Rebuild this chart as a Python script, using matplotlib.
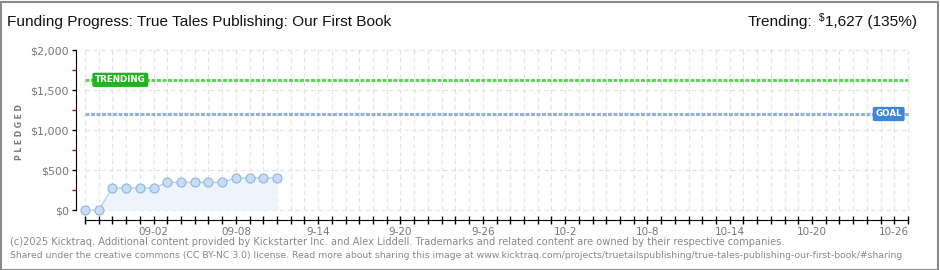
import pandas as pd
import matplotlib
matplotlib.use("Agg")
import matplotlib.pyplot as plt
import matplotlib.dates as mdates
from matplotlib.patches import Rectangle

# data
dates = ["2025-08-28", "2025-08-29", "2025-08-30", "2025-08-31", "2025-09-01",
         "2025-09-02", "2025-09-03", "2025-09-04", "2025-09-05", "2025-09-06",
         "2025-09-07", "2025-09-08", "2025-09-09", "2025-09-10", "2025-09-11"]
pledged = [0, 0, 275, 275, 275, 275, 345, 345, 345, 345, 345, 400, 400, 400, 400]
trend_value = 1627
goal_value = 1200
campaign_start = "2025-08-28"
campaign_end = "2025-10-27"
label_dates = ["2025-09-02", "2025-09-08", "2025-09-14", "2025-09-20", "2025-09-26",
               "2025-10-02", "2025-10-08", "2025-10-14", "2025-10-20", "2025-10-26"]
label_text = ["09-02", "09-08", "9-14", "9-20", "9-26", "10-2", "10-8", "10-14", "10-20", "10-26"]
y_ticks = [0, 500, 1000, 1500, 2000]
y_labels = ["$0", "$500", "$1,000", "$1,500", "$2,000"]
y_minor = [250, 750, 1250, 1750]

plt.rcParams["font.family"] = ["DejaVu Sans"]
head_font = "Liberation Sans"

W, H = 940, 270
fig = plt.figure(figsize=(W / 100, H / 100), dpi=100)
fig.patch.set_facecolor("white")
fig.canvas.draw()
r = fig.canvas.get_renderer()


def fit(t, width):
    # shrink/grow font so the text spans the given pixel width
    w = t.get_window_extent(r).width
    t.set_fontsize(t.get_fontsize() * width / w)


# axes placed in pixel units: spine x=76..910, y=48..220
ax = fig.add_axes([76 / W, (H - 220) / H, (910 - 76) / W, (220 - 48) / H])
ax.set_facecolor("none")

x = mdates.date2num(pd.to_datetime(dates))
start = mdates.date2num(pd.Timestamp(campaign_start))
end = mdates.date2num(pd.Timestamp(campaign_end))
days = mdates.date2num(pd.date_range(campaign_start, campaign_end, freq="D"))
px_day = (908 - 85) / (end - start)
ax.set_xlim(start - 9 / px_day, end + 2 / px_day)
ax.set_ylim(-125, 2025)

# grid
ax.vlines(days, 0, 2000, colors="#e2e2e2", linestyles=(0, (4, 3)), lw=0.8, zorder=0)
ax.hlines(y_ticks, start, end, colors="#e2e2e2", linestyles=(0, (4, 3)), lw=0.8, zorder=0)

# pledged series
ax.fill_between(x, pledged, 0, color="#edf4fc", lw=0, zorder=1)
ax.plot(x, pledged, color="#b3d1f1", lw=1, marker="o", ms=6.5,
        mfc="#c6ddf6", mec="#92b4dc", mew=0.8, zorder=3)

# trend / goal lines
ax.hlines(trend_value, start, end, colors="#5ed65e", linestyles=(0, (1.3, 0.5)), lw=2.2, zorder=2)
ax.hlines(goal_value, start, end, colors="#93b2d8", linestyles=(0, (1.3, 0.5)), lw=2.2, zorder=2)
ax.text(start + 10 / px_day, trend_value, "TRENDING", color="white", fontsize=6.3,
        fontweight="bold", ha="left", va="center", zorder=4,
        bbox=dict(boxstyle="round,pad=0.3,rounding_size=0.2", fc="#1fb51f", ec="none"))
ax.text(end - 6 / px_day, goal_value, "GOAL", color="white", fontsize=6.3,
        fontweight="bold", ha="right", va="center", zorder=4,
        bbox=dict(boxstyle="round,pad=0.3,rounding_size=0.2", fc="#3c87d8", ec="none"))

# spines / ticks
for s in ["top", "right"]:
    ax.spines[s].set_visible(False)
ax.spines["left"].set_bounds(0, 2000)
ax.spines["bottom"].set_bounds(start, end)
ax.set_xticks(mdates.date2num(pd.to_datetime(label_dates)))
ax.set_xticklabels(label_text)
ax.set_xticks(days, minor=True)
ax.tick_params(axis="x", which="both", direction="inout", length=6, width=1,
               colors="black", labelcolor="#777777", labelsize=7.5, pad=2)
ax.set_yticks(y_ticks)
ax.set_yticklabels(y_labels)
ax.set_yticks(y_minor, minor=True)
ax.tick_params(axis="y", which="major", direction="out", length=3, width=1,
               colors="black", labelcolor="#777777", labelsize=8, pad=2)
ax.tick_params(axis="y", which="minor", direction="out", length=3, width=1, colors="#e00000")

fig.text(20 / W, 1 - 132 / H, "P L E D G E D", rotation=90, fontsize=5.5, fontweight="bold",
         color="#777777", ha="center", va="center")

# header
title = fig.text(7 / W, 1 - 22 / H, "Funding Progress: True Tales Publishing: Our First Book",
                 fontsize=11, family=head_font, ha="left", va="center", color="#111111")
fit(title, 383)
hsize = title.get_fontsize()
t1 = fig.text(917 / W, 1 - 22 / H, "1,627 (135%)", fontsize=hsize, family=head_font,
              ha="right", va="center", color="#111111")
bb = t1.get_window_extent(r)
t2 = fig.text((bb.x0 - 1) / W, 1 - 18 / H, "$", fontsize=hsize * 0.65, family=head_font,
              ha="right", va="center", color="#111111")
bb2 = t2.get_window_extent(r)
fig.text((bb2.x0 - 6) / W, 1 - 22 / H, "Trending:", fontsize=hsize, family=head_font,
         ha="right", va="center", color="#111111")

# footer
f1 = fig.text(10 / W, 1 - 242 / H,
              "(c)2025 Kicktraq. Additional content provided by Kickstarter Inc. and Alex Liddell. "
              "Trademarks and related content are owned by their respective companies.",
              fontsize=7.2, color="#888888", ha="left", va="center")
fit(f1, 771)
f2 = fig.text(10 / W, 1 - 256 / H,
              "Shared under the creative commons (CC BY-NC 3.0) license. Read more about sharing this image at "
              "www.kicktraq.com/projects/truetailspublishing/true-tales-publishing-our-first-book/#sharing",
              fontsize=7.2, color="#888888", ha="left", va="center")
fit(f2, 895)

# frame
fig.patches.append(Rectangle((0.5 / W, 0.5 / H), (W - 3) / W, (H - 2) / H, transform=fig.transFigure,
                             fill=False, ec="#8a8a8a", lw=1.5))

fig.savefig("out.png", dpi=100)
